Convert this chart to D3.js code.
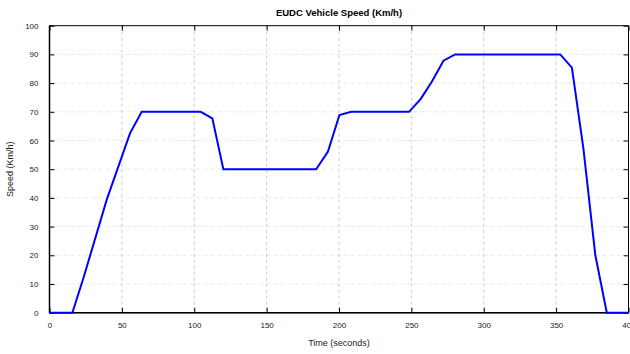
<!DOCTYPE html>
<html>
<head>
<meta charset="utf-8">
<script src="https://cdn.jsdelivr.net/npm/d3@7"></script>
<style>
  html, body { margin: 0; padding: 0; background: #fff; }
  svg { display: block; font-family: "Liberation Sans", Arial, sans-serif; }
</style>
</head>
<body>
<svg id="chart" width="630" height="354"></svg>
<script>
// EUDC drive cycle: time (s) vs vehicle speed (km/h)
const timeSec  = [0, 15.8, 23.4, 39.5, 55.6, 63.7, 104.5, 112.5, 120.1, 184.2, 192.3, 200.3, 208.4, 248.4, 256.5, 264.1, 272.2, 280.2, 352.8, 360.9, 368.9, 377.1, 385, 400];
const speedKmh = [0, 0, 12, 39.3, 62.5, 70, 70, 67.7, 50, 50, 56.1, 68.9, 70, 70, 74.5, 80.5, 87.8, 90, 90, 85.4, 57, 20, 0, 0];
const xTicks = [0, 50, 100, 150, 200, 250, 300, 350, 400];
const yTicks = [0, 10, 20, 30, 40, 50, 60, 70, 80, 90, 100];
const titleText = "EUDC Vehicle Speed (Km/h)";
const xLabelText = "Time (seconds)";
const yLabelText = "Speed (Km/h)";

const svg = d3.select("#chart");
const plotL = 49.5, plotR = 628.5, plotT = 25.7, plotB = 312.7;

const x = d3.scaleLinear().domain([0, 400]).range([plotL, plotR]);
const y = d3.scaleLinear().domain([0, 100]).range([plotB, plotT]);

// grid
const grid = svg.append("g");
grid.selectAll(".hg").data(yTicks.slice(1, -1)).join("line")
  .attr("x1", plotL).attr("x2", plotR)
  .attr("y1", d => y(d)).attr("y2", d => y(d))
  .attr("stroke", "#e8e8e8").attr("stroke-width", 1).attr("stroke-dasharray", "4,3");
grid.selectAll(".vg").data(xTicks.slice(1, -1)).join("line")
  .attr("x1", d => x(d)).attr("x2", d => x(d))
  .attr("y1", plotT).attr("y2", plotB)
  .attr("stroke", "#cccccc").attr("stroke-width", 1).attr("stroke-dasharray", "3,3");

// frame
svg.append("rect").attr("x", plotL).attr("y", plotT)
  .attr("width", plotR - plotL).attr("height", plotB - plotT)
  .attr("fill", "none").attr("stroke", "#000").attr("stroke-width", 1);

// axes with inward ticks
const fmt = d3.format("d");
const bottomAxis = svg.append("g").attr("transform", `translate(0,${plotB})`)
  .call(d3.axisBottom(x).tickValues(xTicks).tickSize(-5).tickPadding(10).tickFormat(fmt));
const topAxis = svg.append("g").attr("transform", `translate(0,${plotT})`)
  .call(d3.axisTop(x).tickValues(xTicks).tickSize(-5).tickFormat(""));
const leftAxis = svg.append("g").attr("transform", `translate(${plotL},0)`)
  .call(d3.axisLeft(y).tickValues(yTicks).tickSize(-5).tickPadding(11).tickFormat(fmt));
const rightAxis = svg.append("g").attr("transform", `translate(${plotR},0)`)
  .call(d3.axisRight(y).tickValues(yTicks).tickSize(-5).tickFormat(""));

[bottomAxis, topAxis, leftAxis, rightAxis].forEach(g => {
  g.select(".domain").remove();
  g.selectAll(".tick line").attr("stroke", "#000").attr("stroke-width", 1);
  g.selectAll("text").attr("font-size", 8).attr("fill", "#222")
    .attr("font-family", "'Liberation Sans', Arial, sans-serif");
});

// heavier left and bottom axis lines
svg.append("line").attr("x1", plotL).attr("x2", plotL).attr("y1", plotT).attr("y2", plotB)
  .attr("stroke", "#000").attr("stroke-width", 1.5);
svg.append("line").attr("x1", plotL).attr("x2", plotR).attr("y1", plotB).attr("y2", plotB)
  .attr("stroke", "#000").attr("stroke-width", 1.5);

// speed trace
const pts = timeSec.map((t, i) => [t, speedKmh[i]]);
svg.append("path").datum(pts)
  .attr("fill", "none").attr("stroke", "#0000ff").attr("stroke-width", 2)
  .attr("stroke-linejoin", "miter")
  .attr("d", d3.line().x(d => x(d[0])).y(d => y(d[1])));

// titles
svg.append("text").attr("x", (plotL + plotR) / 2).attr("y", 15.5)
  .attr("text-anchor", "middle").attr("font-size", 9.5).attr("font-weight", "bold")
  .attr("fill", "#000").text(titleText);
svg.append("text").attr("x", (plotL + plotR) / 2).attr("y", 346)
  .attr("text-anchor", "middle").attr("font-size", 9).attr("fill", "#222").text(xLabelText);
svg.append("text").attr("transform", `translate(13,${(plotT + plotB) / 2}) rotate(-90)`)
  .attr("text-anchor", "middle").attr("font-size", 9).attr("fill", "#222").text(yLabelText);
</script>
</body>
</html>
